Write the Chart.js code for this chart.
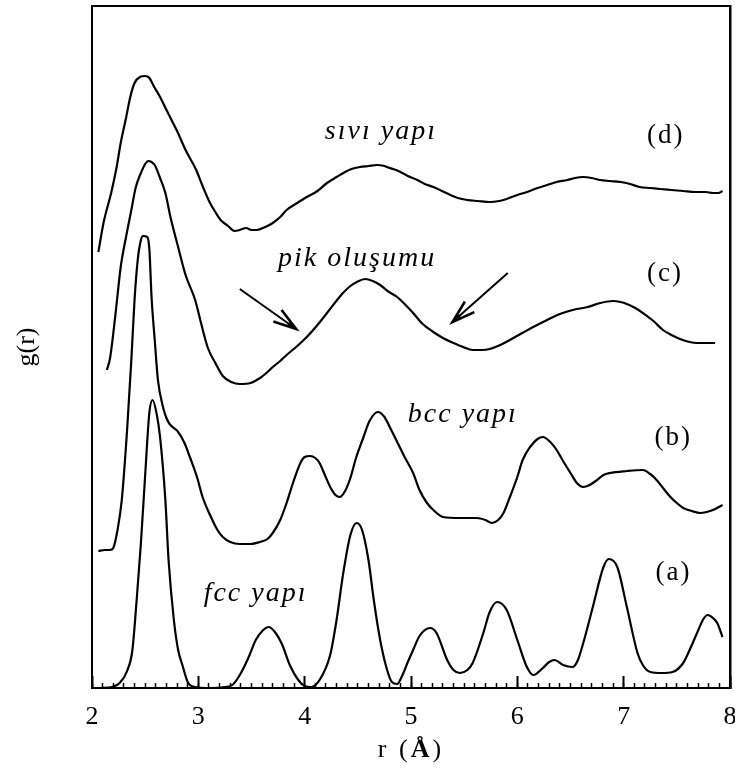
<!DOCTYPE html>
<html>
<head>
<meta charset="utf-8">
<script src="https://cdn.jsdelivr.net/npm/chart.js@4/dist/chart.umd.min.js"></script>
<style>
html,body{margin:0;padding:0;background:#fff;}
#wrap{width:735px;height:769px;}
</style>
</head>
<body>
<div id="wrap"><canvas id="c" width="735" height="769"></canvas></div>
<script>
// ---- data (r in Å, g(r) curves offset vertically, arbitrary units) ----
const rFcc = [2.08,2.19,2.26,2.33,2.38,2.42,2.46,2.50,2.54,2.57,2.61,2.64,2.69,2.72,2.77,2.81,2.85,2.90,2.97,3.11,3.25,3.32,3.39,3.47,3.54,3.61,3.66,3.72,3.79,3.86,3.94,4.00,4.06,4.14,4.24,4.30,4.36,4.43,4.49,4.54,4.60,4.65,4.71,4.77,4.82,4.87,4.92,4.97,5.02,5.08,5.18,5.24,5.34,5.40,5.46,5.53,5.58,5.68,5.74,5.81,5.90,6.00,6.09,6.15,6.24,6.30,6.35,6.43,6.52,6.57,6.62,6.71,6.81,6.86,6.94,7.03,7.13,7.18,7.25,7.36,7.46,7.56,7.62,7.69,7.75,7.79,7.84,7.88,7.93];
const gFcc = [0,1,5,17,38,88,145,213,276,288,273,251,188,128,68,38,23,6,1,0,1,3,13,30,48,58,61,56,43,23,8,2,1,8,33,68,113,153,165,158,128,88,48,20,6,4,13,26,38,52,60,55,28,18,15,18,25,55,76,86,78,48,21,13,20,26,28,23,21,28,45,81,121,129,121,81,35,23,16,15,16,25,38,55,69,73,70,65,51];

const rBcc = [2.06,2.12,2.17,2.20,2.24,2.28,2.33,2.37,2.40,2.43,2.46,2.48,2.52,2.54,2.56,2.59,2.62,2.67,2.70,2.73,2.77,2.81,2.87,2.92,2.99,3.04,3.11,3.18,3.23,3.30,3.39,3.49,3.58,3.65,3.70,3.77,3.83,3.89,3.96,4.00,4.05,4.10,4.14,4.19,4.24,4.29,4.33,4.38,4.43,4.48,4.55,4.61,4.69,4.75,4.80,4.88,4.94,5.02,5.08,5.15,5.23,5.30,5.46,5.62,5.70,5.76,5.82,5.87,5.93,6.00,6.05,6.12,6.19,6.24,6.31,6.37,6.43,6.50,6.56,6.62,6.68,6.75,6.81,6.87,7.03,7.18,7.25,7.31,7.37,7.44,7.50,7.56,7.64,7.72,7.78,7.84,7.93];
const gBcc = [137,138,138,140,158,188,258,328,388,428,448,452,451,438,391,348,308,280,270,264,260,256,245,231,210,191,173,158,151,146,144,144,146,149,155,168,185,205,225,231,232,230,225,213,201,193,191,197,210,229,250,267,276,271,261,244,231,215,198,185,176,171,170,170,168,165,168,175,191,211,228,241,249,251,246,238,227,215,205,201,203,208,213,215,217,218,214,208,200,191,185,180,177,175,176,178,183];

const rPik = [2.14,2.17,2.22,2.27,2.32,2.37,2.41,2.46,2.50,2.53,2.56,2.59,2.64,2.69,2.74,2.81,2.88,2.97,3.03,3.09,3.16,3.23,3.31,3.39,3.49,3.58,3.65,3.70,3.77,3.83,3.93,4.02,4.12,4.21,4.29,4.36,4.43,4.49,4.57,4.64,4.71,4.78,4.87,4.94,5.02,5.11,5.21,5.30,5.40,5.49,5.58,5.67,5.74,5.84,5.93,6.03,6.15,6.28,6.40,6.52,6.66,6.78,6.90,6.97,7.03,7.11,7.18,7.28,7.37,7.45,7.53,7.62,7.69,7.86];
const gPik = [318,330,373,421,451,478,500,515,524,527,526,523,510,495,470,441,413,388,363,340,325,312,306,304,305,310,316,321,327,333,342,351,363,375,386,395,402,406,409,407,403,397,391,384,375,364,356,350,345,341,338,338,339,343,348,354,361,368,374,378,381,385,387,386,384,380,375,367,358,353,349,346,345,345];

const rSivi = [2.06,2.11,2.18,2.23,2.27,2.32,2.36,2.40,2.45,2.50,2.54,2.58,2.64,2.71,2.80,2.88,2.98,3.04,3.11,3.16,3.21,3.28,3.34,3.39,3.45,3.50,3.55,3.63,3.70,3.77,3.83,3.93,4.02,4.12,4.21,4.30,4.38,4.44,4.52,4.60,4.68,4.75,4.80,4.86,4.90,4.97,5.06,5.13,5.21,5.29,5.37,5.44,5.53,5.63,5.74,5.83,5.90,6.00,6.09,6.19,6.28,6.37,6.47,6.54,6.62,6.70,6.78,6.87,6.97,7.06,7.15,7.25,7.34,7.45,7.56,7.67,7.77,7.84,7.89,7.93];
const gSivi = [436,466,495,520,545,570,591,605,611,612,610,602,591,576,557,538,518,502,485,476,468,462,457,458,460,458,458,461,465,471,478,485,491,497,505,511,516,519,521,522,523,522,520,518,516,512,508,504,501,497,493,490,488,487,486,487,489,493,496,500,503,506,508,510,511,510,508,507,506,504,501,500,499,498,497,496,496,495,495,497];

const xMajorTicks = [2,3,4,5,6,7,8];

// curve annotations (text, r, g at baseline)
const labelText = ['sıvı yapı','pik oluşumu','bcc yapı','fcc yapı','(d)','(c)','(b)','(a)'];
const labelR    = [4.19, 3.75, 4.97, 3.05, 7.22, 7.22, 7.29, 7.30];
const labelG    = [549, 422, 266, 87, 545, 407, 243, 108];
const labelItalic = [true,true,true,true,false,false,false,false];

// arrows (from -> to), in r / g units
const arrowFromR = [3.39, 5.91];
const arrowFromG = [399, 415];
const arrowToR   = [3.92, 5.39];
const arrowToG   = [359, 366];

const FONT = "'Liberation Serif', 'Times New Roman', Times, serif";

function series(rs, gs){ return rs.map((r,i)=>({x:r, y:gs[i]})); }
function ds(rs, gs){
  return {data: series(rs,gs), xAxisID:'x', yAxisID:'y', borderColor:'#000',
          borderWidth:2.2, pointRadius:0, cubicInterpolationMode:'monotone', fill:false};
}

const annot = {
  id:'annot',
  afterDraw(chart){
    const {ctx} = chart;
    const x = chart.scales.x, y = chart.scales.y;
    ctx.save();
    ctx.fillStyle = '#000';
    ctx.strokeStyle = '#000';
    ctx.textBaseline = 'alphabetic';
    ctx.textAlign = 'left';
    labelText.forEach((t,i)=>{
      if (labelItalic[i]) { ctx.font = "italic 28px " + FONT; ctx.letterSpacing = '2px'; }
      else { ctx.font = "27px " + FONT; ctx.letterSpacing = '2px'; }
      ctx.fillText(t, x.getPixelForValue(labelR[i]), y.getPixelForValue(labelG[i]));
    });
    ctx.letterSpacing = '0px';
    // arrows
    for (let i=0;i<arrowFromR.length;i++){
      const x1 = x.getPixelForValue(arrowFromR[i]), y1 = y.getPixelForValue(arrowFromG[i]);
      const x2 = x.getPixelForValue(arrowToR[i]),   y2 = y.getPixelForValue(arrowToG[i]);
      const a = Math.atan2(y2-y1, x2-x1);
      ctx.lineWidth = 2;
      ctx.beginPath(); ctx.moveTo(x1,y1); ctx.lineTo(x2,y2); ctx.stroke();
      const L = 24, w = 0.30;
      ctx.lineWidth = 2.6;
      ctx.lineJoin = 'miter';
      ctx.beginPath();
      ctx.moveTo(x2 - L*Math.cos(a-w), y2 - L*Math.sin(a-w));
      ctx.lineTo(x2, y2);
      ctx.lineTo(x2 - L*Math.cos(a+w), y2 - L*Math.sin(a+w));
      ctx.stroke();
      ctx.beginPath();
      ctx.moveTo(x2,y2);
      ctx.lineTo(x2 - 10*Math.cos(a-w), y2 - 10*Math.sin(a-w));
      ctx.lineTo(x2 - 10*Math.cos(a+w), y2 - 10*Math.sin(a+w));
      ctx.closePath(); ctx.fill();
    }
    // x axis title: r (Å) with bold Å
    const parts = [['r (', "26px " + FONT], ['Å', "bold 26px " + FONT], [')', "26px " + FONT]];
    ctx.letterSpacing = '3px';
    let total = 0;
    const widths = parts.map(p=>{ ctx.font = p[1]; const w = ctx.measureText(p[0]).width; total += w; return w; });
    let cx = (chart.chartArea.left + chart.chartArea.right)/2 - total/2;
    const by = 757;
    parts.forEach((p,i)=>{ ctx.font = p[1]; ctx.fillText(p[0], cx, by); cx += widths[i]; });
    ctx.restore();
  }
};

new Chart(document.getElementById('c').getContext('2d'), {
  type: 'line',
  data: { datasets: [ds(rSivi,gSivi), ds(rPik,gPik), ds(rBcc,gBcc), ds(rFcc,gFcc)] },
  options: {
    responsive: false,
    animation: false,
    devicePixelRatio: 1,
    layout: { padding: 0 },
    plugins: { legend: {display:false}, tooltip: {enabled:false} },
    scales: {
      x: {
        type:'linear', position:'bottom', min:2, max:8,
        afterBuildTicks: s => { s.ticks = xMajorTicks.map(v=>({value:v})); },
        afterFit: s => { s.height = 81; s.paddingLeft = 0; s.paddingRight = 0; },
        grid: { drawOnChartArea:false, drawTicks:true, tickLength:-12, tickWidth:2, tickColor:'#000' },
        border: { display:true, color:'#000', width:2 },
        ticks: { font:{family:FONT, size:26}, color:'#000', padding:26, autoSkip:false, maxRotation:0 }
      },
      xMinor: {
        type:'linear', axis:'x', position:{y:0}, min:2, max:8,
        afterFit: s => { s.height = 0; s.paddingLeft = 0; s.paddingRight = 0; },
        grid: { drawOnChartArea:false, drawTicks:true, tickLength:-5, tickWidth:1.5, tickColor:'#000' },
        border: { display:false },
        ticks: { display:false, stepSize:0.1 }
      },
      xTop: {
        type:'linear', axis:'x', position:'top', min:2, max:8,
        afterFit: s => { s.height = 6; s.paddingLeft = 0; s.paddingRight = 0; },
        grid: { drawOnChartArea:false, drawTicks:false },
        border: { display:true, color:'#000', width:2 },
        ticks: { display:false }
      },
      y: {
        type:'linear', position:'left', min:0, max:682,
        afterFit: s => { s.width = 92; },
        grid: { drawOnChartArea:false, drawTicks:false },
        border: { display:true, color:'#000', width:2 },
        ticks: { display:false },
        title: { display:true, text:'g(r)', color:'#000', font:{family:FONT, size:26}, padding:{top:12, bottom:0} }
      },
      yRight: {
        type:'linear', axis:'y', position:'right', min:0, max:682,
        afterFit: s => { s.width = 5; },
        grid: { drawOnChartArea:false, drawTicks:false },
        border: { display:true, color:'#000', width:2.5 },
        ticks: { display:false }
      }
    }
  },
  plugins: [annot]
});
</script>
</body>
</html>
